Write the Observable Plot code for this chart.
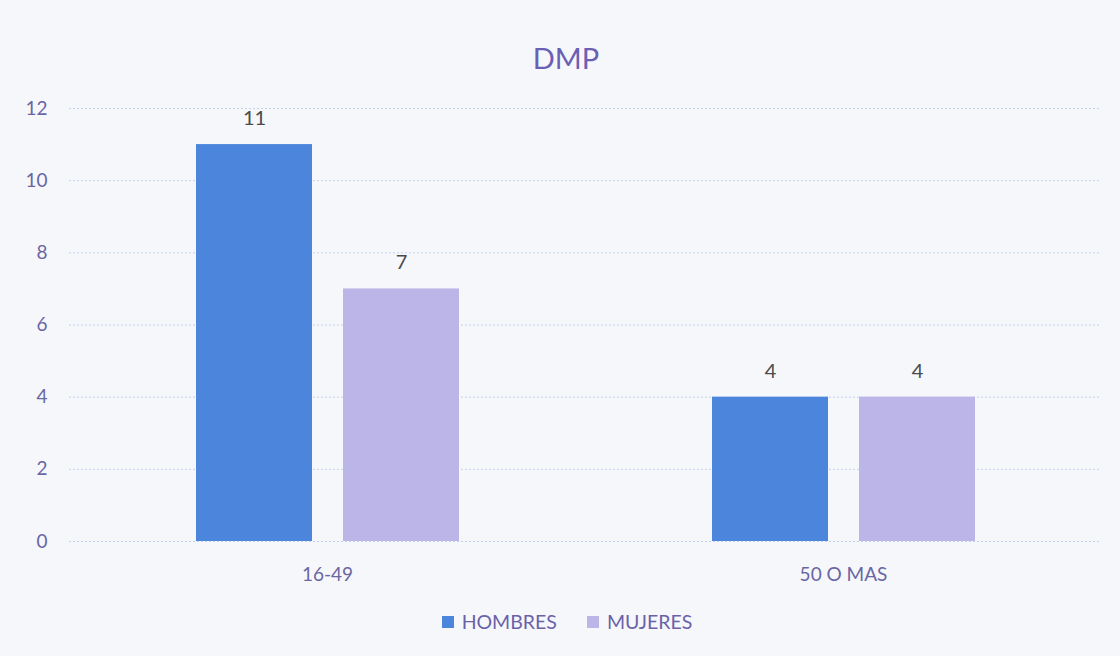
<!DOCTYPE html>
<html>
<head>
<meta charset="utf-8">
<script src="https://cdn.jsdelivr.net/npm/d3@7"></script>
<script src="https://cdn.jsdelivr.net/npm/@observablehq/plot@0.6"></script>
<style>
  html, body { margin: 0; padding: 0; background: #f6f7fb; width: 1120px; height: 656px; overflow: hidden; font-family: Lato, "Open Sans", sans-serif; }
  #title { height: 90px; text-align: center; font-size: 29px; color: #6a5fb4; box-sizing: border-box; padding-left: 12px; }
  #title span { display: inline-block; line-height: 1; vertical-align: top; margin-top: 43px; }
  #legend { display: flex; justify-content: center; gap: 30px; font-size: 19.5px; color: #6a62a8; margin-top: 20px; padding-left: 14px; }
  .item { display: flex; align-items: center; gap: 8px; }
  .sw { width: 12px; height: 12px; display: inline-block; }
</style>
</head>
<body>
<div id="title"><span>DMP</span></div>
<div id="chart"></div>
<div id="legend"></div>
<script>
const groups = ["16-49", "50 O MAS"];
const series = ["HOMBRES", "MUJERES"];
const hombres = [11, 4];
const mujeres = [7, 4];
const colors = ["#4b86dc", "#bbb5e8"];
const yTicks = [0, 2, 4, 6, 8, 10, 12];

const data = [];
groups.forEach((g, i) => {
  data.push({group: g, sexo: series[0], value: hombres[i]});
  data.push({group: g, sexo: series[1], value: mujeres[i]});
});

const chart = Plot.plot({
  width: 1120,
  height: 500,
  marginLeft: 69,
  marginRight: 19,
  marginTop: 18,
  marginBottom: 49,
  style: {background: "transparent", fontFamily: "Lato, 'Open Sans', sans-serif"},
  fx: {domain: groups, padding: 0, label: null, axis: null},
  x: {domain: series, paddingInner: 0.214, paddingOuter: 0.862, axis: null},
  y: {domain: [0, 12], ticks: yTicks, label: null},
  color: {domain: series, range: colors},
  marks: [
    Plot.gridY(yTicks, {stroke: "#c2d2ee", strokeOpacity: 1, strokeDasharray: "2,2", strokeWidth: 1}),
    Plot.axisY(yTicks, {tickSize: 0, tickPadding: 22, fontSize: 19, fill: "#6a66a4", label: null}),
    Plot.barY(data, {fx: "group", x: "sexo", y: "value", fill: "sexo"}),
    Plot.text(data, {fx: "group", x: "sexo", y: "value", text: d => String(d.value), dy: -26, fontSize: 20, fill: "#4a4a4a"}),
    Plot.text(groups, {fx: d => d, frameAnchor: "bottom", dy: 39, text: d => d, fontSize: 19, fill: "#6a66a4"})
  ]
});
document.getElementById("chart").appendChild(chart);

const legend = document.getElementById("legend");
series.forEach((s, i) => {
  const it = document.createElement("div");
  it.className = "item";
  it.innerHTML = `<span class="sw" style="background:${colors[i]}"></span><span>${s}</span>`;
  legend.appendChild(it);
});
</script>
</body>
</html>
